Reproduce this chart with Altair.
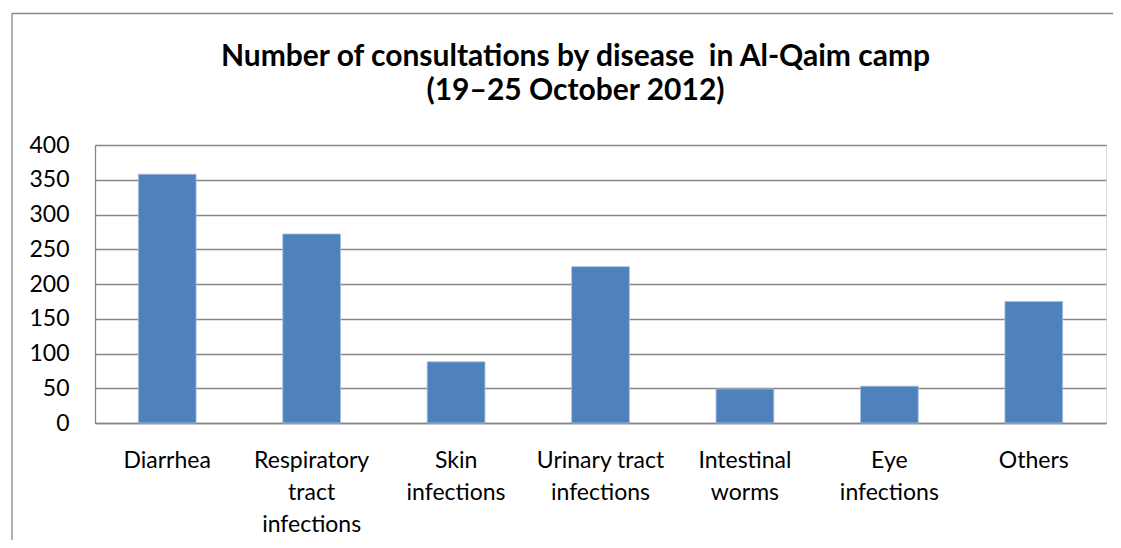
import altair as alt
import pandas as pd

diseases = ["Diarrhea", "Respiratory|tract|infections", "Skin|infections",
            "Urinary tract|infections", "Intestinal|worms", "Eye|infections", "Others"]
consultations = [358, 272, 88, 225, 49, 53, 175]
y_ticks = [0, 50, 100, 150, 200, 250, 300, 350, 400]
title_lines = ["Number of consultations by disease\u00a0 in Al-Qaim camp", "(19\u201325 October 2012)"]

df = pd.DataFrame({"disease": diseases, "count": consultations})

FONT = "Lato"

bars = alt.Chart(df).mark_bar(color="#4F81BD", stroke="#A9C1DF", strokeWidth=0.8).encode(
    x=alt.X("disease:N", sort=None,
            scale=alt.Scale(paddingInner=0.6, paddingOuter=0.3),
            axis=alt.Axis(title=None, labelAngle=0, labelExpr="split(datum.label, '|')",
                          labelFont=FONT, labelFontSize=23, labelColor="#000000",
                          labelLineHeight=32, labelPadding=26, labelLimit=400,
                          ticks=False, domainColor="#868686", domainWidth=1.3,
                          grid=False)),
    y=alt.Y("count:Q", scale=alt.Scale(domain=[0, 400], nice=False),
            axis=alt.Axis(title=None, values=y_ticks, labelFont=FONT, labelFontSize=23,
                          labelColor="#000000", labelPadding=26, ticks=False,
                          domainColor="#868686", domainWidth=1.3,
                          grid=True, gridColor="#868686", gridWidth=1.3)),
)

frame = alt.Chart(pd.DataFrame({"a": [0]})).mark_rect(
    fill=None, stroke="#878787", strokeWidth=1.3
).encode(
    x=alt.value(-83), y=alt.value(-131.5), x2=alt.value(1200), y2=alt.value(700)
)

chart = alt.layer(frame, bars).properties(
    width=1011, height=278,
    autosize=alt.AutoSizeParams(type="none"),
    padding={"left": 87, "top": 137, "right": 7, "bottom": 117},
    title=alt.TitleParams(text=title_lines, font=FONT, fontSize=30, fontWeight="bold",
                          color="#000000", lineHeight=34, anchor="middle", dx=-25,
                          offset=-93),
).configure_view(stroke=None).configure(background="white")

chart.save("out.html", embed_options={"renderer": "svg", "actions": False})
